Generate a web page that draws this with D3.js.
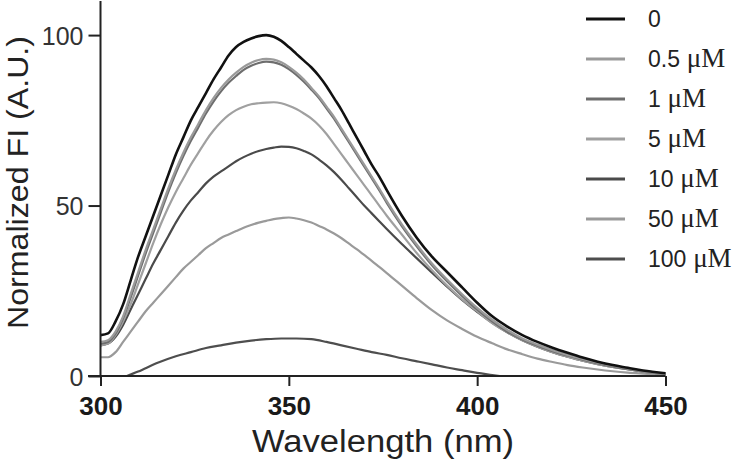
<!DOCTYPE html>
<html><head><meta charset="utf-8">
<script src="https://cdn.jsdelivr.net/npm/d3@7/dist/d3.min.js"></script>
<style>html,body{margin:0;padding:0;background:#fff;}svg{display:block;}</style>
</head><body><svg id="c" width="740" height="462"></svg>
<script>
const wavelengths = [300,302,304,306,308,310,312,314,316,318,320,322,324,326,328,330,332,334,336,338,340,342,344,346,348,350,352,354,356,358,360,362,364,366,368,370,372,374,376,380,384,388,392,396,400,404,408,412,416,420,424,428,432,436,440,444,450];
const s0    = [12,12.5,16,21,28,35,41,47,53,59,65,70,75,79,83,87,90.5,94,96.5,98,99,99.7,100,99.5,98.3,96.5,94.5,92.5,90.5,88,85,81.5,78,74,70,66,62,58.5,54.5,47,40.5,35,30.5,26,21.5,17.5,14.5,12,10,8.3,6.8,5.4,4.2,3.2,2.4,1.6,0.8];
const s0_5  = [10,10.5,13,17.5,24,30.5,37,43,49,55,60.5,65.5,70,74,78,81.5,84.5,87,89,90.7,91.9,92.7,93,92.8,92,90.7,89,87,84.5,82,79,76,72.5,69,65.5,62,58.5,55,51.3,44.5,38.5,33,28.3,24,20,16.5,13.5,11,9.2,7.6,6.2,5,3.9,3,2.2,1.5,0.7];
const s1    = [9.5,10,12.5,17,23,29.5,36,42,48,54,59.5,64.5,69,73,77,80.5,83.5,86,88,89.8,91,91.8,92.2,92,91.3,90,88.3,86.3,84,81.5,78.5,75.5,72,68.5,65,61.5,58,54.5,50.8,44,38,32.5,27.8,23.5,19.5,16,13,10.7,8.9,7.3,6,4.8,3.7,2.8,2,1.4,0.6];
const s5    = [9,9.5,12,16,21,27,33,39,44.5,49.5,54,58,62,65.5,69,72,74.5,76.5,78,79,79.7,80,80.2,80.3,80,79.3,78.3,77,75.5,73.5,71,68,65,62,59,56,53,50,47,41.5,36,31,26.5,22.5,19,15.5,12.8,10.5,8.6,7,5.7,4.5,3.5,2.7,2,1.3,0.6];
const s10   = [9,9.5,11.5,15,19.5,24,28.5,33,37,41,45,48.5,51.5,54,56.5,58.5,60,61.5,63,64.2,65.2,66,66.6,67,67.3,67.2,66.8,66,65,63.5,61.8,59.8,57.5,55,52.5,50,47.7,45.4,43.1,38.7,34.5,30.3,26.2,22.3,18.8,15.6,12.8,10.5,8.6,7,5.7,4.5,3.5,2.7,2,1.3,0.6];
const s50   = [5.5,5.5,7,10,13,16,19,21.5,24,26.5,29,31.5,33.5,35.5,37.5,39,40.5,41.5,42.5,43.5,44.3,45,45.5,46,46.3,46.5,46.2,45.7,45,44,43,41.8,40.4,38.8,37.2,35.5,33.8,32,30.2,26.5,22.8,19.3,16.3,13.8,11.5,9.6,7.8,6.4,5.1,4.1,3.2,2.5,1.9,1.4,1,0.7,0.3];
const wavelengths100 = [307,310,315,320,324,328,332,336,340,344,348,352,356,360,364,368,372,376,380,384,388,392,396,400,404,406];
const s100  = [0,1.3,3.8,5.8,7,8.2,9,9.8,10.4,10.8,11,11,10.8,10,9,8,7,6.2,5.2,4.3,3.4,2.5,1.7,0.9,0.3,0];
const seriesNames = ["0","0.5","1","5","10","50","100"];
const seriesColors = ["#111111","#9a9a9a","#6e6e6e","#a0a0a0","#4a4a4a","#9a9a9a","#4e4e4e"];
const xTicks = [300,350,400,450];
const yTicks = [0,50,100];

const series = [
  {name:seriesNames[0], x:wavelengths, y:s0, c:seriesColors[0]},
  {name:seriesNames[1], x:wavelengths, y:s0_5, c:seriesColors[1]},
  {name:seriesNames[2], x:wavelengths, y:s1, c:seriesColors[2]},
  {name:seriesNames[3], x:wavelengths, y:s5, c:seriesColors[3]},
  {name:seriesNames[4], x:wavelengths, y:s10, c:seriesColors[4]},
  {name:seriesNames[5], x:wavelengths, y:s50, c:seriesColors[5]},
  {name:seriesNames[6], x:wavelengths100, y:s100, c:seriesColors[6]}
];

const svg = d3.select("#c");
const x = d3.scaleLinear().domain([300,450]).range([100.5,665.5]);
const y = d3.scaleLinear().domain([0,110]).range([376,1]);
const axisColor = "#222";
const sans = "Liberation Sans, Arial, sans-serif";

const line = d3.line().x(d=>x(d[0])).y(d=>y(d[1])).curve(d3.curveMonotoneX);
series.slice().reverse().forEach(s=>{
  svg.append("path").datum(s.x.map((w,i)=>[w,s.y[i]]))
    .attr("d",line).attr("fill","none").attr("stroke",s.c)
    .attr("stroke-width", s.name==="0"?2.6:2.2).attr("stroke-linejoin","round");
});

// x axis
const gx = svg.append("g").attr("transform","translate(0,376)")
  .call(d3.axisBottom(x).tickValues(xTicks).tickSize(10).tickSizeOuter(0).tickFormat(d3.format("d")));
gx.select(".domain").remove();
gx.append("line").attr("x1",88).attr("x2",x(450)).attr("y1",0).attr("y2",0).attr("stroke",axisColor).attr("stroke-width",2);
gx.selectAll(".tick line").attr("stroke",axisColor).attr("stroke-width",2);
gx.selectAll(".tick text").attr("fill","#1a1a1a").attr("font-family",sans)
  .attr("font-size",26).attr("font-weight","bold").attr("dy","0").attr("y",39);

// y axis
const gy = svg.append("g").attr("transform","translate(100.5,0)")
  .call(d3.axisLeft(y).tickValues(yTicks).tickSize(12).tickSizeOuter(0).tickFormat(d3.format("d")));
gy.select(".domain").remove();
gy.append("line").attr("x1",0).attr("x2",0).attr("y1",y(110)).attr("y2",376).attr("stroke",axisColor).attr("stroke-width",2);
gy.selectAll(".tick line").attr("stroke",axisColor).attr("stroke-width",2);
gy.selectAll(".tick text").attr("fill","#333").attr("font-family",sans)
  .attr("font-size",25).attr("x",-17).attr("dy","0.36em");

// axis titles
svg.append("text").attr("x",(x(300)+x(450))/2).attr("y",452).attr("text-anchor","middle")
  .attr("font-family",sans).attr("font-size",31).attr("fill","#222")
  .attr("textLength",262).attr("lengthAdjust","spacingAndGlyphs")
  .text("Wavelength (nm)");
svg.append("text").attr("transform","translate(28,"+((330+35)/2)+") rotate(-90)").attr("text-anchor","middle")
  .attr("font-family",sans).attr("font-size",29).attr("fill","#222")
  .attr("textLength",293).attr("lengthAdjust","spacingAndGlyphs")
  .text("Normalized FI (A.U.)");

// legend
const lg = svg.append("g");
series.forEach((s,i)=>{
  const yy = 19 + i*40;
  lg.append("line").attr("x1",586).attr("x2",625).attr("y1",yy).attr("y2",yy).attr("stroke",s.c).attr("stroke-width",3);
  const t = lg.append("text").attr("x",648).attr("y",yy).attr("dy","0.36em").attr("fill","#222")
    .attr("font-family",sans).attr("font-size",23);
  t.append("tspan").text(s.name);
  if (s.name!=="0") t.append("tspan").attr("font-family","Liberation Serif, Times New Roman, serif").attr("font-size",27).text(" μM");
});
</script></body></html>
